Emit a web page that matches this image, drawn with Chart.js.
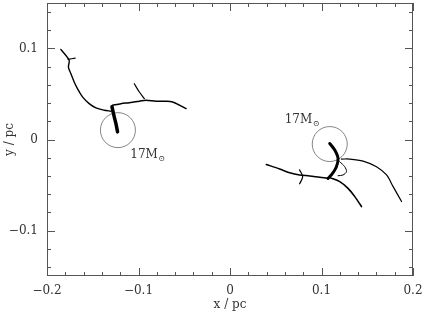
<!DOCTYPE html>
<html>
<head>
<meta charset="utf-8">
<script src="https://cdn.jsdelivr.net/npm/chart.js@4"></script>
<style>
  html, body { margin: 0; padding: 0; background: #fff; }
  #wrap { width: 434px; height: 316px; }
</style>
</head>
<body>
<div id="wrap"><canvas id="c" width="434" height="316"></canvas></div>
<script>
// ---- data (x, y in pc) ----
const trackA_x = [-0.1849, -0.1758, -0.1766, -0.1739, -0.1703, -0.1667, -0.1612, -0.1539, -0.1465, -0.1375, -0.1301];
const trackA_y = [0.0990, 0.0870, 0.0796, 0.0723, 0.0632, 0.0559, 0.0468, 0.0394, 0.0347, 0.0322, 0.0311];
const knotA_x = [-0.1770, -0.1692];
const knotA_y = [0.0880, 0.0895];
const trackB_x = [-0.1284, -0.1192, -0.1101, -0.0991, -0.0918, -0.0808, -0.0699, -0.0627, -0.0553, -0.0480];
const trackB_y = [0.0377, 0.0394, 0.0405, 0.0421, 0.0432, 0.0421, 0.0421, 0.0413, 0.0377, 0.0340];
const trackC_x = [-0.1046, -0.0991, -0.0936];
const trackC_y = [0.0613, 0.0522, 0.0449];
const trackD_x = [-0.1290, -0.1265, -0.1246, -0.1229];
const trackD_y = [0.0360, 0.0249, 0.0172, 0.0084];
const trackE_x = [0.1090, 0.1145, 0.1181, 0.1163, 0.1108, 0.1071];
const trackE_y = [-0.0044, -0.0116, -0.0208, -0.0299, -0.0390, -0.0427];
const trackF_x = [0.0396, 0.0542, 0.0652, 0.0761, 0.0871, 0.0980, 0.1071];
const trackF_y = [-0.0274, -0.0324, -0.0365, -0.0390, -0.0401, -0.0416, -0.0427];
const arrowF_x = [0.0761, 0.0794, 0.0761];
const arrowF_y = [-0.0334, -0.0410, -0.0487];
const trackG_x = [0.1090, 0.1199, 0.1290, 0.1364, 0.1437];
const trackG_y = [-0.0419, -0.0463, -0.0537, -0.0628, -0.0737];
const trackH_x = [0.1218, 0.1309, 0.1455, 0.1601, 0.1711, 0.1783, 0.1875];
const trackH_y = [-0.0215, -0.0215, -0.0237, -0.0299, -0.0390, -0.0518, -0.0682];
const curl_x = [0.1199, 0.1254, 0.1273, 0.1235, 0.1181];
const curl_y = [-0.0244, -0.0299, -0.0354, -0.0390, -0.0398];

// stars (circle markers)
const star_x = [-0.1225, 0.1090];
const star_y = [0.0103, -0.0050];

// annotations
const label_x = [-0.1090, 0.0597];
const label_y = [-0.0168, 0.0216];
const label_main = ["17M", "17M"];
const label_sub = ["\u2299", "\u2299"];

// ticks
const xTicks = [-0.2, -0.18, -0.16, -0.14, -0.12, -0.1, -0.08, -0.06, -0.04, -0.02, 0,
                0.02, 0.04, 0.06, 0.08, 0.1, 0.12, 0.14, 0.16, 0.18, 0.2];
const yTicks = [-0.14, -0.12, -0.1, -0.08, -0.06, -0.04, -0.02, 0,
                0.02, 0.04, 0.06, 0.08, 0.1, 0.12, 0.14];
const xMajor = [-0.2, -0.1, 0, 0.1, 0.2];
const yMajor = [-0.1, 0, 0.1];
const xLabelText = ["\u22120.2", "\u22120.1", "0", "0.1", "0.2"];
const yLabelText = ["\u22120.1", "0", "0.1"];

function pts(xs, ys) { return xs.map((x, i) => ({ x: x, y: ys[i] })); }
function isMajor(list, v) { return list.some(m => Math.abs(m - v) < 1e-9); }

function line(xs, ys, w) {
  return {
    data: pts(xs, ys), showLine: true, borderColor: '#000', backgroundColor: '#000',
    borderWidth: w, pointRadius: 0, tension: 0.3, borderCapStyle: 'round', borderJoinStyle: 'round'
  };
}

const SERIF = '"DejaVu Serif", "Liberation Serif", serif';

const framePlugin = {
  id: 'frame',
  afterDatasetsDraw(chart) {
    const ctx = chart.ctx, a = chart.chartArea;
    const xs = chart.scales.x, ys = chart.scales.y;
    ctx.save();
    ctx.strokeStyle = '#555';
    ctx.lineWidth = 1;
    ctx.strokeRect(Math.round(a.left) + 0.5, Math.round(a.top) + 0.5,
                   Math.round(a.right - a.left) - 1, Math.round(a.bottom - a.top) - 1);
    ctx.beginPath();
    xTicks.forEach(v => {
      const px = Math.round(xs.getPixelForValue(v)) + 0.5;
      const L = isMajor(xMajor, v) ? 8 : 4;
      ctx.moveTo(px, a.bottom); ctx.lineTo(px, a.bottom - L);
      ctx.moveTo(px, a.top); ctx.lineTo(px, a.top + L);
    });
    yTicks.forEach(v => {
      const py = Math.round(ys.getPixelForValue(v)) + 0.5;
      const L = isMajor(yMajor, v) ? 8 : 4;
      ctx.moveTo(a.left, py); ctx.lineTo(a.left + L, py);
      ctx.moveTo(a.right, py); ctx.lineTo(a.right - L, py);
    });
    ctx.stroke();
    // annotations
    ctx.fillStyle = '#333';
    ctx.textBaseline = 'middle';
    ctx.textAlign = 'left';
    label_x.forEach((lx, i) => {
      const px = xs.getPixelForValue(lx), py = ys.getPixelForValue(label_y[i]);
      ctx.font = '12px ' + SERIF;
      ctx.fillText(label_main[i], px, py);
      const w = ctx.measureText(label_main[i]).width;
      ctx.font = '8px ' + SERIF;
      ctx.fillText(label_sub[i], px + w + 0.5, py + 4);
    });
    ctx.restore();
  }
};

const datasets = [
  line(trackA_x, trackA_y, 1.4),
  line(knotA_x, knotA_y, 1.2),
  line(trackB_x, trackB_y, 1.5),
  line(trackC_x, trackC_y, 1.2),
  line(trackD_x, trackD_y, 3.5),
  line(trackE_x, trackE_y, 3),
  line(trackF_x, trackF_y, 1.5),
  line(arrowF_x, arrowF_y, 1.2),
  line(trackG_x, trackG_y, 1.6),
  line(trackH_x, trackH_y, 1.2),
  line(curl_x, curl_y, 1),
  {
    data: pts(star_x, star_y), showLine: false, pointRadius: 17.5, pointHoverRadius: 17.5,
    pointStyle: 'circle', borderColor: '#666', backgroundColor: 'rgba(0,0,0,0)', borderWidth: 0.8
  }
];

new Chart(document.getElementById('c'), {
  type: 'scatter',
  data: { datasets: datasets },
  options: {
    responsive: false,
    animation: false,
    events: [],
    layout: { autoPadding: false, padding: { top: 3, right: 21, left: 0, bottom: 0 } },
    plugins: { legend: { display: false }, tooltip: { enabled: false } },
    scales: {
      x: {
        type: 'linear', min: -0.2, max: 0.2,
        grid: { display: false, drawTicks: false },
        border: { display: false },
        afterBuildTicks(s) { s.ticks = xTicks.map(v => ({ value: v })); },
        afterFit(s) { s.height = 40; s.paddingLeft = 0; s.paddingRight = 0; },
        ticks: {
          autoSkip: false, maxRotation: 0, padding: 8, color: '#333',
          font: { family: SERIF, size: 12 },
          callback(v) { const i = xMajor.findIndex(m => Math.abs(m - v) < 1e-9); return i >= 0 ? xLabelText[i] : ''; }
        },
        title: { display: true, text: 'x / pc', color: '#333', font: { family: SERIF, size: 12 }, padding: { top: 0, bottom: 4 } }
      },
      y: {
        type: 'linear', min: -0.15, max: 0.15,
        grid: { display: false, drawTicks: false },
        border: { display: false },
        afterBuildTicks(s) { s.ticks = yTicks.map(v => ({ value: v })); },
        afterFit(s) { s.width = 47; s.paddingTop = 0; s.paddingBottom = 0; },
        ticks: {
          autoSkip: false, padding: 9, color: '#333',
          font: { family: SERIF, size: 12 },
          callback(v) { const i = yMajor.findIndex(m => Math.abs(m - v) < 1e-9); return i >= 0 ? yLabelText[i] : ''; }
        },
        title: { display: true, text: 'y / pc', color: '#333', font: { family: SERIF, size: 12 }, padding: { top: 3, bottom: 0 } }
      }
    }
  },
  plugins: [framePlugin]
});
</script>
</body>
</html>
